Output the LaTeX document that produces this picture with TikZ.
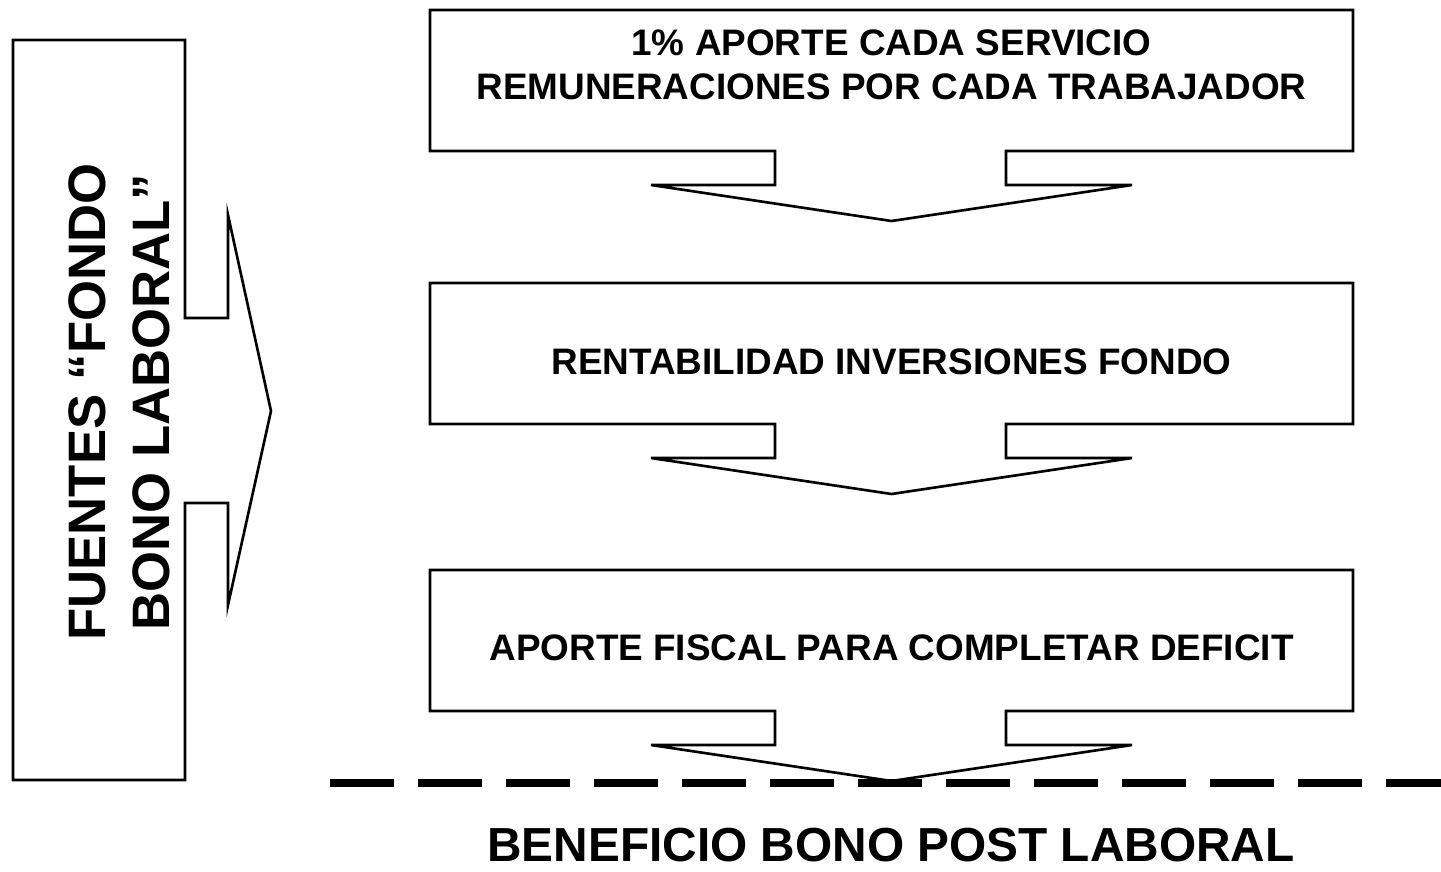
\documentclass[tikz,border=0pt]{standalone}
\usepackage{fontspec}
\setmainfont{Liberation Sans}
\usepackage{tikz}
\usetikzlibrary{positioning}

\begin{document}
\begin{tikzpicture}[x = 0.02cm, y = -0.02cm, line width = 1.5pt,
	boxtext/.style = {font = \fontsize{21}{25}\selectfont\bfseries, align = center},
	sidetext/.style = {font = \fontsize{30}{36.4}\selectfont\bfseries, align = center, rotate = 90},
	endtext/.style = {font = \fontsize{27.2}{32}\selectfont\bfseries, inner sep = 0pt}]

\useasboundingbox (0, 0) rectangle (1441, 872);

\begin{scope}
	\draw (13, 40) -- (185, 40) -- (185, 318) -- (228, 318) -- (228, 215) -- (271, 411)
		-- (228, 605) -- (228, 503) -- (185, 503) -- (185, 780) -- (13, 780) -- cycle;
	\node[sidetext] (Fuentes) at (119, 402) {FUENTES “FONDO \\ BONO LABORAL”};
\end{scope}

\foreach \t in {10, 283, 570} {
	\draw (430, \t) -- (1353, \t) -- (1353, \t + 141) -- (1006, \t + 141) -- (1006, \t + 175)
		-- (1132, \t + 175) -- (891.5, \t + 211) -- (651, \t + 175) -- (775, \t + 175)
		-- (775, \t + 141) -- (430, \t + 141) -- cycle;
}

\node[boxtext] (Aporte) at (891.5, 65) {1\% APORTE CADA SERVICIO \\ REMUNERACIONES POR CADA TRABAJADOR};
\node[boxtext] (Rentabilidad) at (891.5, 362) {RENTABILIDAD INVERSIONES FONDO};
\node[boxtext] (Fiscal) at (891.5, 648) {APORTE FISCAL PARA COMPLETAR DEFICIT};

\draw[line width = 4.5pt, dash pattern = on 1.28cm off 0.48cm] (330, 783) -- (1441, 783);

\node[endtext] (Beneficio) at (891, 845) {BENEFICIO BONO POST LABORAL};

\end{tikzpicture}
\end{document}
